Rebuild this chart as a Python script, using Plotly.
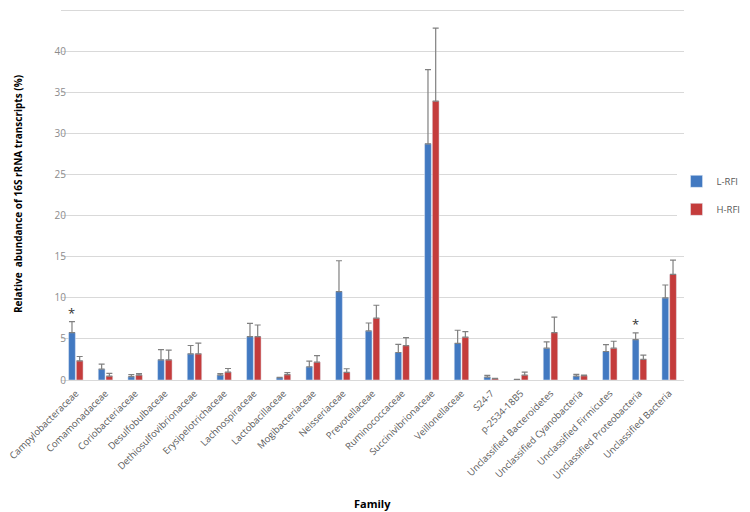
import plotly.graph_objects as go

categories = ["Campylobacteraceae", "Comamonadaceae", "Coriobacteriaceae", "Desulfobulbaceae",
              "Dethiosulfovibrionaceae", "Erysipelotrichaceae", "Lachnospiraceae", "Lactobacillaceae",
              "Mogibacteriaceae", "Neisseriaceae", "Prevotellaceae", "Ruminococcaceae",
              "Succinivibrionaceae", "Veillonellaceae", "S24-7", "p-2534-18B5",
              "Unclassified Bacteroidetes", "Unclassified Cyanobacteria", "Unclassified Firmicutes",
              "Unclassified Proteobacteria", "Unclassified Bacteria"]

l_rfi = [5.77, 1.33, 0.40, 2.46, 3.19, 0.60, 5.28, 0.28, 1.61, 10.77, 5.97, 3.35,
         28.76, 4.46, 0.36, 0.05, 3.87, 0.48, 3.47, 4.92, 10.00]
l_err = [1.33, 0.61, 0.25, 1.24, 1.01, 0.17, 1.62, 0.05, 0.69, 3.75, 0.97, 1.00,
         9.04, 1.60, 0.20, 0.03, 0.77, 0.21, 0.84, 0.81, 1.57]
h_rfi = [2.34, 0.48, 0.60, 2.46, 3.19, 0.97, 5.28, 0.65, 2.18, 0.93, 7.54, 4.19,
         33.97, 5.22, 0.16, 0.60, 5.77, 0.52, 3.87, 2.50, 12.86]
h_err = [0.52, 0.32, 0.17, 1.17, 1.31, 0.43, 1.42, 0.24, 0.80, 0.44, 1.56, 0.97,
         8.88, 0.68, 0.05, 0.36, 1.89, 0.07, 0.85, 0.52, 1.74]

significant = ["Campylobacteraceae", "Unclassified Proteobacteria"]

y_ticks = [0, 5, 10, 15, 20, 25, 30, 35, 40, 45]

blue = "#4279C1"
red = "#C43C3C"
err_color = "#808080"
font_fam = "Open Sans, Liberation Sans, sans-serif"

fig = go.Figure()
for name, vals, errs, col, grp in [("L-RFI", l_rfi, l_err, blue, "a"),
                                   ("H-RFI", h_rfi, h_err, red, "b")]:
    fig.add_trace(go.Bar(
        x=categories, y=vals, name=name, marker_color=col, legendgroup=grp,
        error_y=dict(type="data", symmetric=False, array=errs,
                     arrayminus=[0] * len(errs), color=err_color,
                     thickness=1.2, width=3),
    ))

annotations = []
for cat in significant:
    i = categories.index(cat)
    annotations.append(dict(
        x=cat, y=l_rfi[i] + l_err[i], xref="x", yref="y", text="*",
        showarrow=False, xshift=-4, yshift=9,
        font=dict(size=13, color="#333333", family=font_fam)))
annotations.append(dict(
    x=0.5, y=-0.331, xref="paper", yref="paper", text="<b>Family</b>",
    yanchor="middle", showarrow=False,
    font=dict(size=11, color="#000000", family=font_fam)))

fig.update_layout(
    width=742, height=504,
    margin=dict(l=53, r=66, t=0, b=132),
    paper_bgcolor="white", plot_bgcolor="white",
    barmode="group", bargap=0.48, bargroupgap=0.12,
    font=dict(family=font_fam, color="#595959", size=10),
    legend=dict(x=0.988, y=0.573, xanchor="left", yanchor="top",
                traceorder="grouped", tracegroupgap=9,
                font=dict(size=9.5, color="#595959"), itemwidth=30),
    annotations=annotations,
    showlegend=True,
)
fig.update_xaxes(
    tickangle=-45, tickfont=dict(size=9.5, color="#595959"),
    showgrid=False, showline=False, ticks="", automargin=False,
    ticklabelstandoff=5,
)
fig.update_yaxes(
    range=[0, 45.3], tickvals=y_ticks, showgrid=True, gridcolor="#d9d9d9", gridwidth=1,
    zeroline=True, zerolinecolor="#d9d9d9", zerolinewidth=1,
    showline=False, ticks="", tickfont=dict(size=10, color="#8c8c8c"),
    ticklabelstandoff=-6, automargin=False,
    title=dict(text="<b>Relative\u00a0 abundance of 16S rRNA transcripts (%)</b>",
               font=dict(size=10, color="#000000"), standoff=30),
)
fig.write_html("out.html")
